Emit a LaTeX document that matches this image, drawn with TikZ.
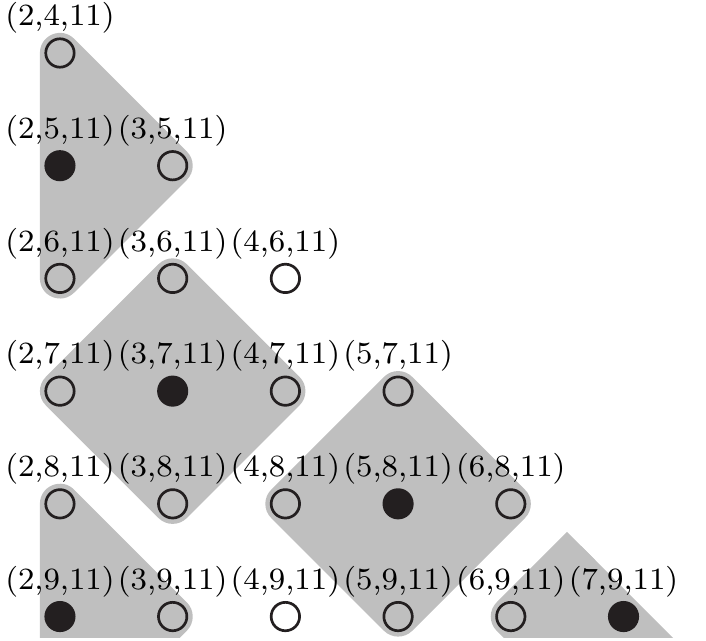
\documentclass[tikz,border=0pt]{standalone}
\usepackage{tikz}
\usetikzlibrary{backgrounds}
\definecolor{ink}{RGB}{35,31,32}
\definecolor{grayfill}{RGB}{191,191,191}

\begin{document}
\begin{tikzpicture}[
    pt/.style={circle, draw=ink, line width=0.68pt, minimum size=0.252cm, inner sep=0pt},
    hit/.style={pt, fill=ink},
    lab/.style={inner sep=0pt, font=\fontsize{7.8}{9}\selectfont},
    region/.style={fill=grayfill, draw=grayfill, line width=0.356cm, line join=round}
  ]
    \path[use as bounding box] (1.468,-3.530) rectangle (7.732,-9.217);

    \node[pt] (p24) at (2,-4){};
    \node[hit] (p25) at (2,-5){};
    \node[pt] (p35) at (3,-5){};
    \node[pt] (p26) at (2,-6){};
    \node[pt] (p36) at (3,-6){};
    \node[pt] (p46) at (4,-6){};
    \node[pt] (p27) at (2,-7){};
    \node[hit] (p37) at (3,-7){};
    \node[pt] (p47) at (4,-7){};
    \node[pt] (p57) at (5,-7){};
    \node[pt] (p28) at (2,-8){};
    \node[pt] (p38) at (3,-8){};
    \node[pt] (p48) at (4,-8){};
    \node[hit] (p58) at (5,-8){};
    \node[pt] (p68) at (6,-8){};
    \node[hit] (p29) at (2,-9){};
    \node[pt] (p39) at (3,-9){};
    \node[pt] (p49) at (4,-9){};
    \node[pt] (p59) at (5,-9){};
    \node[pt] (p69) at (6,-9){};
    \node[hit] (p79) at (7,-9){};

    \node[lab] (l24) at (2,-3.69){(2,4,11)};
    \node[lab] (l25) at (2,-4.69){(2,5,11)};
    \node[lab] (l35) at (3,-4.69){(3,5,11)};
    \node[lab] (l26) at (2,-5.69){(2,6,11)};
    \node[lab] (l36) at (3,-5.69){(3,6,11)};
    \node[lab] (l46) at (4,-5.69){(4,6,11)};
    \node[lab] (l27) at (2,-6.69){(2,7,11)};
    \node[lab] (l37) at (3,-6.69){(3,7,11)};
    \node[lab] (l47) at (4,-6.69){(4,7,11)};
    \node[lab] (l57) at (5,-6.69){(5,7,11)};
    \node[lab] (l28) at (2,-7.69){(2,8,11)};
    \node[lab] (l38) at (3,-7.69){(3,8,11)};
    \node[lab] (l48) at (4,-7.69){(4,8,11)};
    \node[lab] (l58) at (5,-7.69){(5,8,11)};
    \node[lab] (l68) at (6,-7.69){(6,8,11)};
    \node[lab] (l29) at (2,-8.69){(2,9,11)};
    \node[lab] (l39) at (3,-8.69){(3,9,11)};
    \node[lab] (l49) at (4,-8.69){(4,9,11)};
    \node[lab] (l59) at (5,-8.69){(5,9,11)};
    \node[lab] (l69) at (6,-8.69){(6,9,11)};
    \node[lab] (l79) at (7,-8.69){(7,9,11)};

    % corners that lie below the visible rows
    \coordinate (q210) at (2,-10);
    \coordinate (q78) at (7,-8);
    \coordinate (q89) at (8,-9);
    \coordinate (q710) at (7,-10);

    \begin{scope}[on background layer]
      \clip (1,-9.182) rectangle (8,-3);
      \filldraw[region] (p24.center) -- (p35.center) -- (p26.center) -- cycle;
      \filldraw[region] (p36.center) -- (p47.center) -- (p38.center) -- (p27.center) -- cycle;
      \filldraw[region] (p57.center) -- (p68.center) -- (p59.center) -- (p48.center) -- cycle;
      \filldraw[region] (p28.center) -- (p39.center) -- (q210) -- cycle;
      \begin{scope}
        \clip (4,-5.75) -- (8,-9.75) -- (4,-9.75) -- cycle;
        \filldraw[region] (q78) -- (q89) -- (q710) -- (p69.center) -- cycle;
      \end{scope}
    \end{scope}
  \end{tikzpicture}
\end{document}
